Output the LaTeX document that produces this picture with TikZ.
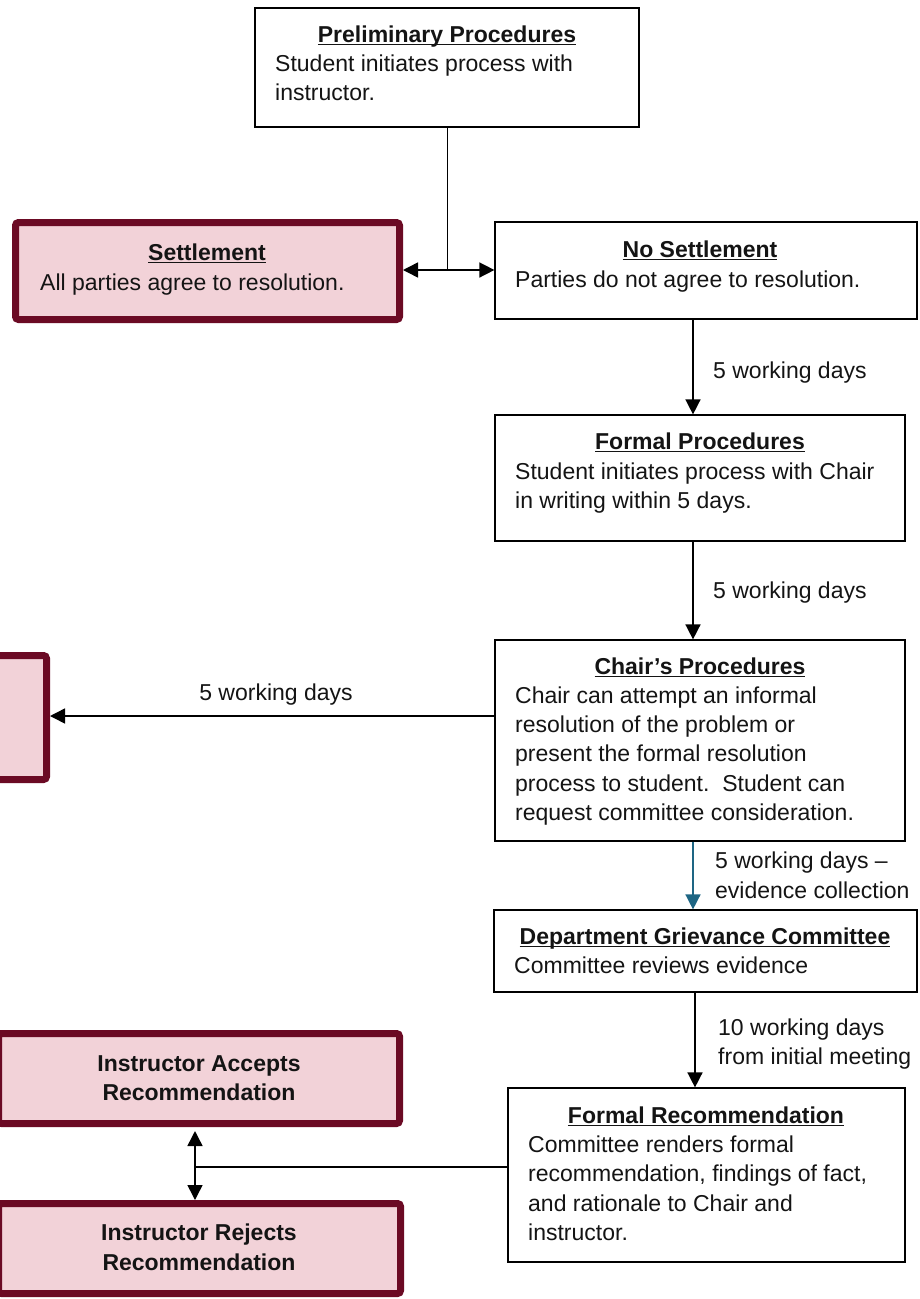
\documentclass[tikz,border=0pt]{standalone}
\usepackage{fontspec}
\setmainfont{Liberation Sans}
\usetikzlibrary{arrows.meta}
\definecolor{boxmaroon}{RGB}{107,10,36}
\definecolor{pinkfill}{RGB}{242,210,216}
\definecolor{tealarrow}{RGB}{30,102,132}
\definecolor{inkc}{RGB}{20,20,20}
\newcommand{\hul}[1]{\setbox0\hbox{#1}\rlap{\rule[-3.2pt]{\wd0}{1.6pt}}\box0}
\begin{document}
\begin{tikzpicture}[x=1pt,y=-1pt,
  thinbox/.style={draw=black, line width=1.2pt, inner sep=0pt, anchor=north west, fill=white},
  thickbox/.style={draw=boxmaroon, fill=pinkfill, line width=7pt, rounded corners=3pt, inner sep=0pt, anchor=north west},
  txt/.style={anchor=base west, inner sep=0pt, text=inkc, font=\fontsize{23}{29}\selectfont},
  head/.style={anchor=base, inner sep=0pt, text=inkc, font=\fontsize{23}{29}\selectfont\bfseries},
  conn/.style={line width=1.5pt, draw=black},
  arr/.style={conn, -{Triangle[length=15pt,width=15pt]}}
]
\useasboundingbox (0,0) rectangle (919,1299);

% boxes
\node[thinbox, minimum width=384pt, minimum height=119pt] (prelim) at (254.4,7.4) {};
\node[thickbox, minimum width=384pt, minimum height=97pt] (settle) at (12,219) {};
\node[thinbox, minimum width=422pt, minimum height=97pt] (nos) at (494.4,221.4) {};
\node[thinbox, minimum width=410pt, minimum height=126pt] (formal) at (494.4,414.4) {};
\node[thinbox, minimum width=410pt, minimum height=201pt] (chair) at (494.4,639.4) {};
\node[thickbox, minimum width=106.5pt, minimum height=124pt] (leftbox) at (-63.5,652) {};
\node[thinbox, minimum width=423pt, minimum height=82pt] (dept) at (493.4,909.4) {};
\node[thinbox, minimum width=397pt, minimum height=174pt] (fr) at (507.4,1087.4) {};
\node[thickbox, minimum width=401pt, minimum height=90pt] (accept) at (-5,1030) {};
\node[thickbox, minimum width=402pt, minimum height=90pt] (reject) at (-5,1200) {};

% texts
\node[head] (t1) at (447,42) {\hul{Preliminary Procedures}};
\node[txt] (t2) at (275,71) {Student initiates process with};
\node[txt] (t3) at (275,100) {instructor.};

\node[head] (t4) at (207,260) {\hul{Settlement}};
\node[txt] (t5) at (40,290) {All parties agree to resolution.};

\node[head] (t6) at (700,257) {\hul{No Settlement}};
\node[txt] (t7) at (515,287) {Parties do not agree to resolution.};

\node[txt] (l1) at (713,378) {5 working days};

\node[head] (t8) at (700,449) {\hul{Formal Procedures}};
\node[txt] (t9) at (515,479) {Student initiates process with Chair};
\node[txt] (t10) at (515,508) {in writing within 5 days.};

\node[txt] (l2) at (713,598) {5 working days};

\node[head] (t11) at (700,674) {\hul{Chair’s Procedures}};
\node[txt] (t12) at (515,703) {Chair can attempt an informal};
\node[txt] (t13) at (515,732) {resolution of the problem or};
\node[txt] (t14) at (515,761) {present the formal resolution};
\node[txt] (t15) at (515,791) {process to student.\ \ Student can};
\node[txt] (t16) at (515,820) {request committee consideration.};

\node[head, font=\fontsize{23}{29}\selectfont] (l3) at (276,700) {5 working days};

\node[txt] (l4) at (715,868) {5 working days –};
\node[txt] (l5) at (715,898) {evidence collection};

\node[head] (t17) at (705,944) {\hul{Department Grievance Committee}};
\node[txt] (t18) at (514,973) {Committee reviews evidence};

\node[txt] (l6) at (718,1035) {10 working days};
\node[txt] (l7) at (718,1064) {from initial meeting};

\node[head] (t19) at (706,1123) {\hul{Formal Recommendation}};
\node[txt] (t20) at (528,1152) {Committee renders formal};
\node[txt] (t21) at (528,1181) {recommendation, findings of fact,};
\node[txt] (t22) at (528,1211) {and rationale to Chair and};
\node[txt] (t23) at (528,1240) {instructor.};

\node[head] (t24) at (199,1071) {Instructor Accepts};
\node[head] (t25) at (199,1100) {Recommendation};
\node[head] (t26) at (199,1240) {Instructor Rejects};
\node[head] (t27) at (199,1270) {Recommendation};

% connectors
\coordinate (j1) at (447.6,270);
\draw[conn] (prelim.south -| j1) -- (j1);
\draw[arr] (j1) -- (j1 -| settle.east);
\draw[arr] (j1) -- (j1 -| nos.west);
\coordinate (xa) at (693,0);
\draw[arr] (nos.south -| xa) -- (formal.north -| xa);
\draw[arr] (formal.south -| xa) -- (chair.north -| xa);
\coordinate (ya) at (0,716);
\draw[arr] (chair.west |- ya) -- (leftbox.east |- ya);
\draw[arr, draw=tealarrow] (chair.south -| xa) -- (dept.north -| xa);
\coordinate (xb) at (695,0);
\draw[arr] (dept.south -| xb) -- (fr.north -| xb);
\coordinate (j2) at (195,1167);
\draw[conn] (fr.west |- j2) -- (j2);
\draw[arr, shorten >=4pt] (j2) -- (accept.south -| j2);
\draw[arr] (j2) -- (reject.north -| j2);
\end{tikzpicture}
\end{document}
